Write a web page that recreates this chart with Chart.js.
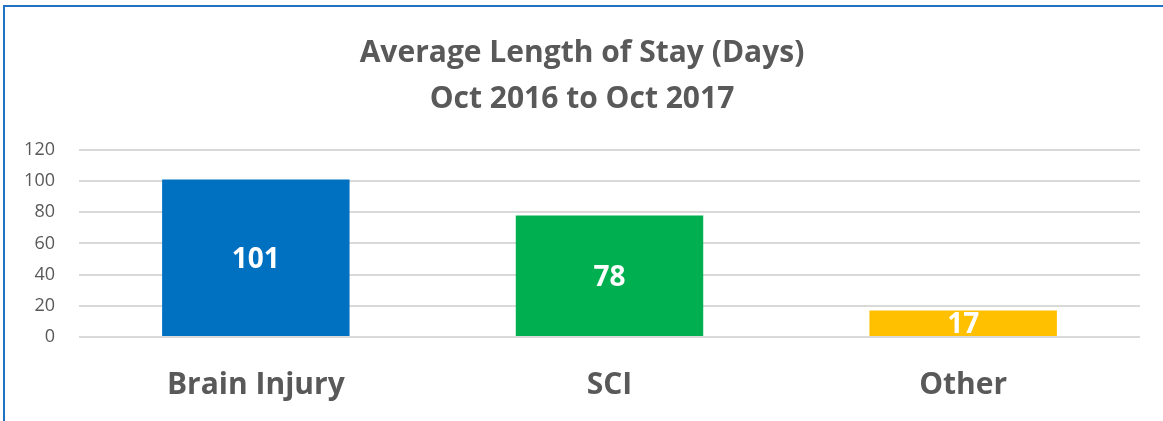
<!DOCTYPE html>
<html>
<head>
<meta charset="utf-8">
<script src="https://cdn.jsdelivr.net/npm/chart.js@4/dist/chart.umd.min.js"></script>
<style>
html,body{margin:0;padding:0;background:#fff;}
#wrap{position:relative;width:1163px;height:421px;overflow:hidden;}
#frame{position:absolute;left:3px;top:5px;width:1200px;height:500px;border-left:2px solid #2272c3;border-top:2px solid #2272c3;box-sizing:border-box;pointer-events:none;}
canvas{position:absolute;left:0;top:0;}
</style>
</head>
<body>
<div id="wrap">
<canvas id="c" width="1163" height="421"></canvas>
<div id="frame"></div>
</div>
<script>
const categories = ["Brain Injury", "SCI", "Other"];
const values = [101, 78, 17];
const barColors = ["#0070c0", "#00b050", "#ffc000"];
const titleLines = ["Average Length of Stay (Days)", "Oct 2016 to Oct 2017"];
const yTicks = [0, 20, 40, 60, 80, 100, 120];

const FONT = "'Open Sans', 'Liberation Sans', sans-serif";
const GREY = "#595959";

const valueLabels = {
  id: "valueLabels",
  afterDatasetsDraw(chart) {
    const ctx = chart.ctx;
    const meta = chart.getDatasetMeta(0);
    ctx.save();
    ctx.fillStyle = "#ffffff";
    ctx.font = "bold 28px " + FONT;
    ctx.textAlign = "center";
    ctx.textBaseline = "middle";
    meta.data.forEach((bar, i) => {
      const y = (bar.y + bar.base) / 2;
      ctx.fillText(String(values[i]), bar.x, y + 2);
    });
    ctx.restore();
  }
};

new Chart(document.getElementById("c"), {
  type: "bar",
  data: {
    labels: categories,
    datasets: [{
      data: values,
      backgroundColor: barColors,
      borderWidth: 0,
      barPercentage: 0.53,
      categoryPercentage: 1.0
    }]
  },
  options: {
    responsive: false,
    animation: false,
    events: [],
    layout: { padding: { left: 24, right: 23, top: 0, bottom: 0 } },
    plugins: {
      legend: { display: false },
      tooltip: { enabled: false },
      title: {
        display: true,
        text: titleLines,
        color: GREY,
        font: { family: FONT, size: 30, weight: "bold", lineHeight: 1.533 },
        padding: { top: 30, bottom: 28 }
      }
    },
    scales: {
      x: {
        grid: { display: false, drawTicks: false },
        border: { display: false },
        ticks: { color: GREY, font: { family: FONT, size: 30, weight: "bold" }, padding: 30 },
        afterFit(scale) { scale.height = 84; }
      },
      y: {
        min: 0, max: 120,
        afterBuildTicks(scale) { scale.ticks = yTicks.map(v => ({ value: v })); },
        grid: { color: "#d9d9d9", lineWidth: 2, drawTicks: false },
        border: { display: false },
        ticks: { color: GREY, font: { family: FONT, size: 18 }, padding: 24 },
        afterFit(scale) { scale.width = 55; }
      }
    }
  },
  plugins: [valueLabels]
});
</script>
</body>
</html>
